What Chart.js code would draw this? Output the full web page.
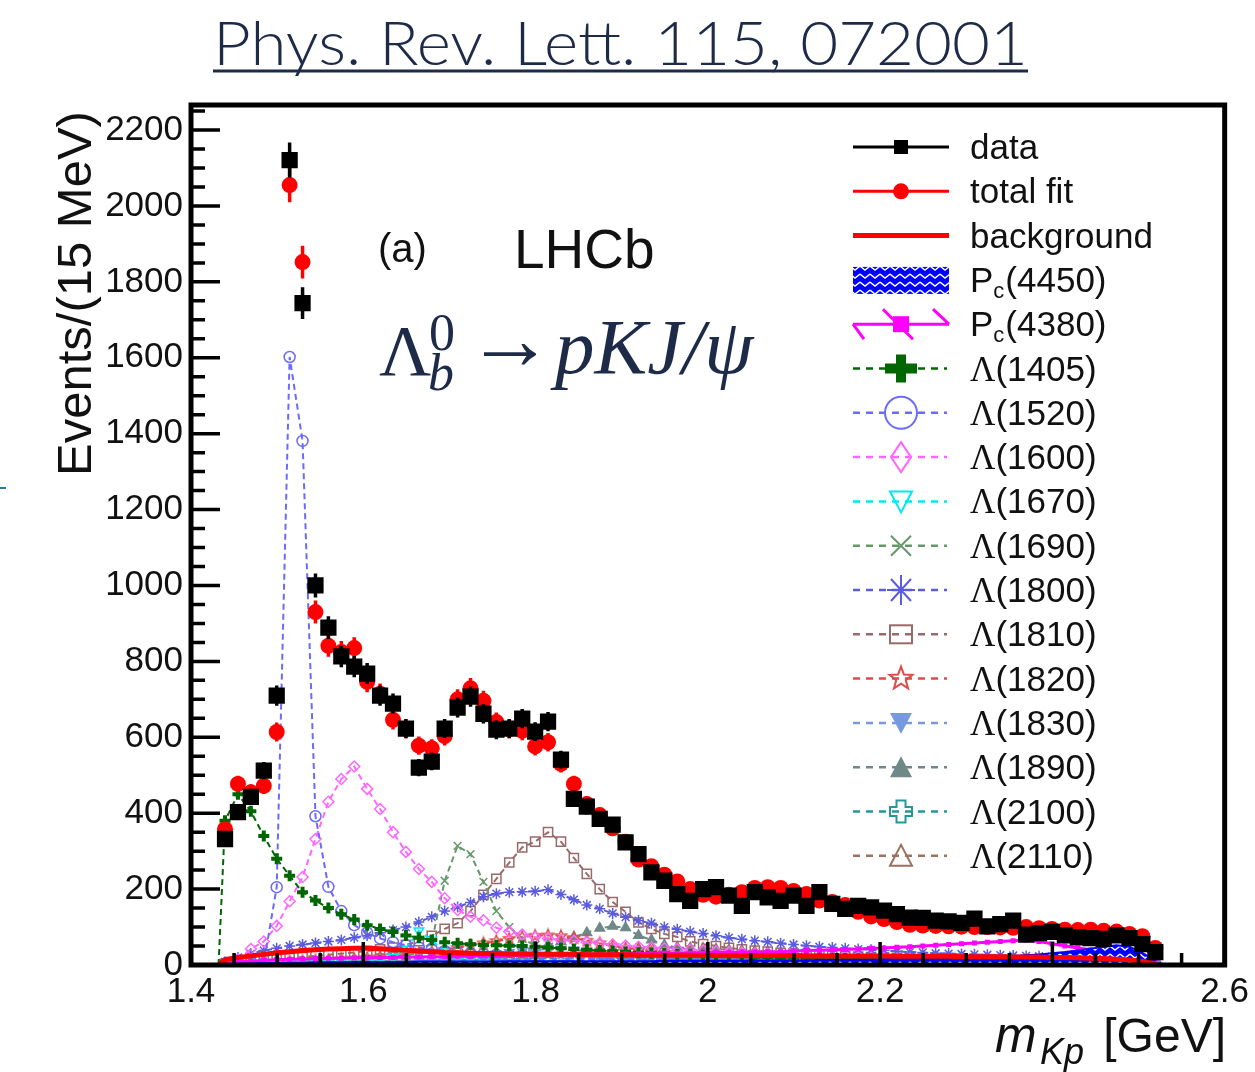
<!DOCTYPE html>
<html>
<head>
<meta charset="utf-8">
<script src="https://cdn.jsdelivr.net/npm/chart.js@4.4.1/dist/chart.umd.min.js"></script>
<style>
  html, body { margin: 0; padding: 0; background: #fff; }
  #wrap { position: relative; width: 1255px; height: 1072px; overflow: hidden; }
  #mkp, #title { position: absolute; left: 0; top: 0; }
  .mark { position: absolute; left: 0; top: 487px; width: 6px; height: 2px; background: #2b7a9b; }
</style>
</head>
<body>
<div id="wrap">
  <canvas id="mkp" width="1255" height="1072"></canvas>
  <svg id="title" width="1255" height="100">
    <text x="213" y="65" textLength="815" lengthAdjust="spacingAndGlyphs"
          font-family="Lato, 'Open Sans', sans-serif" font-weight="300" font-size="62" fill="#1d2b48">Phys. Rev. Lett. 115, 072001</text>
    <line x1="213" y1="71" x2="1028" y2="71" stroke="#1d2b48" stroke-width="3"/>
  </svg>
  <div class="mark"></div>
</div>
<script>
// m(Kp) spectrum, 15 MeV bins
const threshold = 1.432;
const massBins = [
  1.4395, 1.4545, 1.4695, 1.4845, 1.4995, 1.5145, 1.5295, 1.5445, 1.5595, 1.5745,
  1.5895, 1.6045, 1.6195, 1.6345, 1.6495, 1.6645, 1.6795, 1.6945, 1.7095, 1.7245,
  1.7395, 1.7545, 1.7695, 1.7845, 1.7995, 1.8145, 1.8295, 1.8445, 1.8595, 1.8745,
  1.8895, 1.9045, 1.9195, 1.9345, 1.9495, 1.9645, 1.9795, 1.9945, 2.0095, 2.0245,
  2.0395, 2.0545, 2.0695, 2.0845, 2.0995, 2.1145, 2.1295, 2.1445, 2.1595, 2.1745,
  2.1895, 2.2045, 2.2195, 2.2345, 2.2495, 2.2645, 2.2795, 2.2945, 2.3095, 2.3245,
  2.3395, 2.3545, 2.3695, 2.3845, 2.3995, 2.4145, 2.4295, 2.4445, 2.4595, 2.4745,
  2.4895, 2.5045, 2.5195
];

const dataCounts = [
  332, 403, 443, 512, 710, 2121, 1744, 1000, 889, 813,
  786, 768, 710, 689, 623, 520, 536, 623, 678, 707,
  662, 620, 623, 649, 615, 641, 541, 438, 417, 385,
  370, 323, 292, 244, 222, 187, 169, 200, 205, 183,
  156, 192, 178, 169, 183, 156, 192, 161, 148, 156,
  152, 143, 134, 125, 124, 117, 115, 111, 122, 102,
  108, 117, 80, 84, 87, 78, 73, 71, 69, 78,
  71, 55, 34
];
const totalFit = [
  358, 477, 455, 472, 614, 2055, 1852, 930, 841, 825,
  835, 746, 715, 646, 622, 578, 571, 603, 700, 729,
  696, 640, 622, 617, 576, 587, 530, 477, 424, 395,
  360, 325, 278, 260, 238, 220, 200, 185, 180, 185,
  192, 203, 205, 203, 195, 187, 170, 166, 158, 140,
  128, 121, 113, 106, 104, 103, 102, 101, 100, 100,
  99, 98, 100, 97, 95, 93, 92, 93, 90, 88,
  82, 76, 45
];
const background = [
  14, 20, 24, 28, 32, 35, 38, 40, 42, 43,
  44, 44, 43, 41, 39, 37, 35, 33, 32, 31,
  30, 30, 29, 29, 29, 28, 28, 28, 27, 27,
  27, 27, 26, 26, 26, 26, 26, 25, 25, 25,
  25, 25, 25, 25, 25, 24, 24, 24, 24, 24,
  24, 24, 23, 23, 23, 23, 23, 22, 22, 22,
  22, 21, 21, 21, 20, 20, 19, 18, 17, 15,
  13, 9, 4
];
const pc4450 = [
  2, 3, 4, 5, 5, 6, 6, 7, 7, 7,
  8, 8, 8, 8, 8, 9, 9, 9, 9, 9,
  9, 9, 10, 10, 10, 10, 10, 10, 10, 10,
  10, 10, 10, 10, 11, 11, 11, 11, 11, 11,
  11, 12, 12, 12, 12, 12, 13, 13, 13, 14,
  14, 15, 15, 16, 16, 17, 18, 19, 20, 21,
  22, 24, 26, 28, 31, 34, 38, 43, 48, 52,
  48, 32, 10
];
const pc4380 = [
  5, 8, 10, 12, 14, 15, 16, 17, 18, 18,
  19, 19, 20, 20, 21, 21, 22, 22, 23, 23,
  24, 24, 25, 25, 26, 26, 27, 27, 28, 28,
  29, 29, 30, 30, 31, 31, 32, 32, 33, 33,
  34, 34, 35, 35, 37, 38, 39, 40, 41, 42,
  44, 45, 47, 48, 50, 52, 54, 56, 58, 60,
  62, 64, 66, 62, 56, 50, 45, 40, 36, 32,
  27, 18, 6
];
const l1405 = [
  380, 450, 405, 340, 280, 235, 192, 170, 150, 134,
  120, 105, 95, 87, 78, 72, 66, 60, 57, 55,
  53, 52, 51, 50, 48, 46, 44, 42, 40, 38,
  36, 34, 32, 31, 30, 28, 27, 26, 25, 24,
  23, 22, 21, 20, 20, 19, 18, 18, 17, 16,
  16, 15, 15, 14, 13, 13, 12, 12, 12, 11,
  11, 11, 10, 10, 10, 9, 9, 8, 8, 7,
  6, 4, 2
];
const l1520 = [
  3, 5, 7, 5, 205, 1602, 1381, 392, 206, 142,
  105, 85, 70, 60, 52, 46, 41, 37, 34, 31,
  29, 27, 25, 23, 22, 21, 20, 19, 18, 17,
  16, 15, 15, 14, 13, 13, 12, 12, 11, 11,
  10, 10, 10, 9, 9, 9, 8, 8, 8, 8,
  7, 7, 7, 7, 6, 6, 6, 6, 6, 5,
  5, 5, 5, 5, 4, 4, 4, 4, 4, 3,
  3, 2, 1
];
const l1600 = [
  2, 15, 42, 62, 103, 168, 232, 332, 430, 490,
  523, 464, 411, 350, 298, 253, 219, 176, 145, 127,
  118, 98, 88, 80, 74, 70, 66, 64, 60, 57,
  54, 51, 48, 46, 44, 42, 40, 38, 36, 34,
  32, 30, 29, 27, 26, 24, 23, 22, 21, 20,
  19, 18, 17, 16, 15, 14, 13, 12, 12, 11,
  10, 10, 9, 9, 8, 8, 7, 6, 6, 5,
  4, 3, 1
];
const l1670 = [
  0, 1, 1, 2, 2, 3, 3, 4, 5, 6,
  7, 9, 12, 20, 42, 90, 66, 35, 20, 13,
  9, 7, 5, 4, 3, 3, 2, 2, 2, 2,
  1, 1, 1, 1, 1, 1, 1, 1, 1, 1,
  1, 1, 1, 1, 1, 1, 1, 1, 1, 1,
  1, 1, 1, 1, 1, 0, 0, 0, 0, 0,
  0, 0, 0, 0, 0, 0, 0, 0, 0, 0,
  0, 0, 0
];
const l1690 = [
  0, 1, 2, 3, 4, 5, 6, 7, 8, 10,
  11, 13, 15, 18, 24, 35, 60, 222, 314, 292,
  219, 142, 100, 69, 52, 42, 35, 30, 26, 22,
  19, 17, 15, 13, 12, 11, 10, 9, 8, 8,
  7, 7, 6, 6, 5, 5, 5, 4, 4, 4,
  4, 3, 3, 3, 3, 3, 3, 2, 2, 2,
  2, 2, 2, 2, 2, 2, 1, 1, 1, 1,
  1, 1, 0
];
const l1800 = [
  8, 20, 30, 38, 44, 50, 54, 58, 62, 66,
  72, 78, 85, 92, 100, 113, 127, 142, 153, 165,
  180, 188, 192, 193, 194, 198, 186, 172, 158, 148,
  136, 126, 117, 110, 100, 94, 88, 83, 77, 72,
  68, 64, 61, 57, 54, 51, 48, 46, 44, 42,
  40, 38, 36, 34, 33, 31, 30, 29, 28, 27,
  26, 25, 24, 23, 22, 21, 20, 19, 18, 17,
  15, 11, 5
];
const l1810 = [
  3, 6, 9, 12, 15, 18, 21, 24, 27, 30,
  33, 37, 41, 46, 53, 63, 77, 95, 110, 142,
  185, 227, 270, 310, 325, 350, 325, 282, 240, 200,
  166, 140, 112, 95, 82, 74, 62, 55, 50, 45,
  41, 38, 35, 32, 30, 28, 26, 24, 23, 22,
  21, 20, 19, 18, 17, 16, 15, 14, 13, 13,
  12, 12, 11, 11, 10, 10, 9, 9, 8, 8,
  7, 5, 2
];
const l1820 = [
  2, 4, 5, 6, 8, 9, 10, 12, 13, 15,
  17, 19, 21, 24, 27, 31, 35, 40, 45, 51,
  57, 63, 69, 74, 77, 78, 76, 71, 64, 57,
  50, 44, 39, 35, 31, 28, 25, 23, 21, 19,
  18, 17, 16, 15, 14, 13, 12, 12, 11, 11,
  10, 10, 9, 9, 9, 8, 8, 8, 7, 7,
  7, 6, 6, 6, 6, 5, 5, 5, 4, 4,
  4, 3, 1
];
const l1830 = [
  1, 2, 2, 3, 3, 4, 4, 5, 5, 6,
  6, 7, 8, 9, 10, 11, 13, 15, 18, 21,
  25, 29, 33, 37, 40, 42, 42, 40, 37, 33,
  29, 25, 22, 19, 17, 15, 13, 12, 11, 10,
  9, 8, 8, 7, 7, 6, 6, 6, 5, 5,
  5, 5, 4, 4, 4, 4, 4, 3, 3, 3,
  3, 3, 3, 3, 2, 2, 2, 2, 2, 2,
  2, 1, 1
];
const l1890 = [
  1, 1, 2, 2, 3, 3, 4, 4, 5, 5,
  6, 7, 8, 9, 10, 12, 14, 16, 19, 22,
  26, 30, 35, 40, 46, 53, 62, 74, 85, 97,
  102, 98, 78, 66, 53, 46, 41, 37, 33, 30,
  27, 25, 23, 21, 20, 18, 17, 16, 15, 14,
  13, 12, 12, 11, 11, 10, 10, 9, 9, 8,
  8, 7, 7, 7, 6, 6, 6, 5, 5, 4,
  4, 3, 1
];
const l2100 = [
  0, 1, 1, 1, 2, 2, 2, 3, 3, 3,
  4, 4, 5, 5, 6, 6, 7, 7, 8, 8,
  9, 9, 10, 10, 11, 11, 12, 12, 13, 13,
  14, 14, 14, 15, 15, 15, 15, 15, 15, 15,
  15, 14, 14, 14, 13, 13, 12, 12, 11, 11,
  10, 10, 9, 9, 8, 8, 7, 7, 6, 6,
  5, 5, 5, 4, 4, 4, 3, 3, 3, 2,
  2, 1, 0
];
const l2110 = [
  0, 1, 1, 2, 2, 3, 3, 4, 4, 5,
  5, 6, 7, 8, 9, 10, 11, 12, 13, 15,
  17, 19, 21, 23, 25, 27, 30, 32, 35, 38,
  40, 42, 44, 45, 46, 46, 45, 44, 42, 40,
  38, 36, 34, 32, 30, 28, 26, 24, 22, 21,
  19, 18, 16, 15, 14, 13, 12, 11, 10, 9,
  9, 8, 7, 7, 6, 5, 5, 4, 4, 3,
  3, 2, 1
];

const xTicks = [1.4, 1.6, 1.8, 2.0, 2.2, 2.4, 2.6];
const xTickLabels = ['1.4', '1.6', '1.8', '2', '2.2', '2.4', '2.6'];
const yTicks = [0, 200, 400, 600, 800, 1000, 1200, 1400, 1600, 1800, 2000, 2200];

const SANS = "'Liberation Sans', Arial, Helvetica, sans-serif";
const SERIF = "'Liberation Serif', 'Times New Roman', serif";
const NAVY = '#1d2b48';

const cv = document.getElementById('mkp');
const ctx0 = cv.getContext('2d');

// blue hatch for Pc(4450)
function hatchPattern() {
  const t = document.createElement('canvas');
  t.width = 10; t.height = 8;
  const g = t.getContext('2d');
  g.fillStyle = '#0000ff'; g.fillRect(0, 0, 10, 8);
  g.strokeStyle = '#ffffff'; g.lineWidth = 1.4;
  g.beginPath(); g.moveTo(0, 2); g.lineTo(5, 6); g.lineTo(10, 2); g.stroke();
  return ctx0.createPattern(t, 'repeat');
}
const hatch = hatchPattern();

// small marker images that Chart.js does not have
function starImg(r, color) {
  const s = Math.ceil(2 * r + 4), c = document.createElement('canvas');
  c.width = c.height = s;
  const g = c.getContext('2d');
  g.strokeStyle = color; g.lineWidth = 1.5; g.beginPath();
  for (let k = 0; k < 10; k++) {
    const a = -Math.PI / 2 + k * Math.PI / 5, rr = k % 2 ? r * 0.45 : r;
    const px = s / 2 + rr * Math.cos(a), py = s / 2 + rr * Math.sin(a);
    k ? g.lineTo(px, py) : g.moveTo(px, py);
  }
  g.closePath(); g.stroke();
  return c;
}
function crossImg(r, color) {
  const s = Math.ceil(2 * r + 4), c = document.createElement('canvas');
  c.width = c.height = s;
  const g = c.getContext('2d'), m = s / 2, w = r * 0.38;
  g.strokeStyle = color; g.lineWidth = 1.5; g.beginPath();
  const pts = [[-w, -r], [w, -r], [w, -w], [r, -w], [r, w], [w, w], [w, r], [-w, r], [-w, w], [-r, w], [-r, -w], [-w, -w]];
  pts.forEach((p, i) => i ? g.lineTo(m + p[0], m + p[1]) : g.moveTo(m + p[0], m + p[1]));
  g.closePath(); g.stroke();
  return c;
}

const pts = vals => vals.map((v, i) => ({ x: massBins[i], y: v }));
const curve = vals => [{ x: threshold, y: 0 }].concat(pts(vals));
const noFirst = r => c => (c.dataIndex === 0 ? 0 : r);

// component styling table: [label, values, colour, marker, filled, rotation, legend kind]
const components = [
  ['Λ(1405)', l1405, '#006600', 'cross', true, 0, 'plus'],
  ['Λ(1520)', l1520, '#6a6aff', 'circle', false, 0, 'circle'],
  ['Λ(1600)', l1600, '#ff66ff', 'rectRot', false, 0, 'diamond'],
  ['Λ(1670)', l1670, '#00e8f0', 'triangle', false, 180, 'triDown'],
  ['Λ(1690)', l1690, '#66996a', 'crossRot', false, 0, 'x'],
  ['Λ(1800)', l1800, '#5b5be0', 'star', false, 0, 'asterisk'],
  ['Λ(1810)', l1810, '#9a6a6a', 'rect', false, 0, 'box'],
  ['Λ(1820)', l1820, '#dd4b4b', starImg(6, '#dd4b4b'), false, 0, 'star'],
  ['Λ(1830)', l1830, '#7799dd', 'triangle', true, 180, 'triDownFilled'],
  ['Λ(1890)', l1890, '#6f8888', 'triangle', true, 0, 'triUpFilled'],
  ['Λ(2100)', l2100, '#229999', crossImg(6, '#229999'), false, 0, 'plusOpen'],
  ['Λ(2110)', l2110, '#9a7260', 'triangle', false, 0, 'triUp']
];

const datasets = [
  { label: 'data', data: pts(dataCounts), errorBars: dataCounts.map(Math.sqrt), showLine: false,
    pointStyle: 'rect', pointRadius: 11.5, pointBackgroundColor: '#000', pointBorderColor: '#000', pointBorderWidth: 0 },
  { label: 'total fit', data: pts(totalFit), errorBars: totalFit.map(Math.sqrt), showLine: false,
    pointStyle: 'circle', pointRadius: 8, pointBackgroundColor: '#ff0000', pointBorderColor: '#ff0000', pointBorderWidth: 0 },
  { label: 'background', data: curve(background), borderColor: '#ff0000', borderWidth: 5, pointRadius: 0 },
  { label: 'Pc(4450)', data: curve(pc4450), borderColor: '#0000ff', borderWidth: 2, pointRadius: 0,
    fill: 'origin', backgroundColor: hatch },
  { label: 'Pc(4380)', data: curve(pc4380), borderColor: '#ff00ff', borderWidth: 3, pointStyle: 'rect',
    pointRadius: noFirst(3.5), pointBackgroundColor: '#ff00ff', pointBorderColor: '#ff00ff', pointBorderWidth: 0 }
];
components.forEach(([label, vals, color, style, filled, rot]) => {
  datasets.push({
    label, data: curve(vals), borderColor: color, borderWidth: 2, borderDash: [6, 4],
    pointStyle: style, pointRotation: rot, pointRadius: noFirst(style === 'rect' ? 6.5 : 5.5),
    pointBorderColor: color, pointBackgroundColor: filled ? color : 'rgba(0,0,0,0)',
    pointBorderWidth: style === 'cross' ? 4 : 1.5, fill: false
  });
});

function drawMark(ctx, kind, x, y, color) {
  ctx.save();
  ctx.setLineDash([]);
  ctx.strokeStyle = color; ctx.fillStyle = color; ctx.lineWidth = 2;
  ctx.beginPath();
  if (kind === 'square') { ctx.fillRect(x - 7, y - 7, 14, 14); }
  else if (kind === 'dot') { ctx.arc(x, y, 8, 0, 2 * Math.PI); ctx.fill(); }
  else if (kind === 'plus') { ctx.fillRect(x - 16, y - 5, 32, 10); ctx.fillRect(x - 5, y - 14, 10, 28); }
  else if (kind === 'circle') { ctx.arc(x, y, 16, 0, 2 * Math.PI); ctx.stroke(); }
  else if (kind === 'diamond') { ctx.moveTo(x, y - 15); ctx.lineTo(x + 10, y); ctx.lineTo(x, y + 15); ctx.lineTo(x - 10, y); ctx.closePath(); ctx.stroke(); }
  else if (kind === 'triDown' || kind === 'triDownFilled') {
    ctx.moveTo(x - 11, y - 10); ctx.lineTo(x + 11, y - 10); ctx.lineTo(x, y + 11); ctx.closePath();
    kind === 'triDown' ? ctx.stroke() : ctx.fill();
  }
  else if (kind === 'triUp' || kind === 'triUpFilled') {
    ctx.moveTo(x - 11, y + 10); ctx.lineTo(x + 11, y + 10); ctx.lineTo(x, y - 11); ctx.closePath();
    kind === 'triUp' ? ctx.stroke() : ctx.fill();
  }
  else if (kind === 'x') { ctx.moveTo(x - 10, y - 10); ctx.lineTo(x + 10, y + 10); ctx.moveTo(x + 10, y - 10); ctx.lineTo(x - 10, y + 10); ctx.stroke(); }
  else if (kind === 'asterisk') {
    ctx.moveTo(x - 14, y); ctx.lineTo(x + 14, y); ctx.moveTo(x, y - 15); ctx.lineTo(x, y + 15);
    ctx.moveTo(x - 10, y - 11); ctx.lineTo(x + 10, y + 11); ctx.moveTo(x + 10, y - 11); ctx.lineTo(x - 10, y + 11); ctx.stroke();
  }
  else if (kind === 'box') { ctx.strokeRect(x - 11, y - 9, 22, 18); }
  else if (kind === 'star') {
    for (let k = 0; k < 10; k++) {
      const a = -Math.PI / 2 + k * Math.PI / 5, rr = k % 2 ? 5 : 12;
      k ? ctx.lineTo(x + rr * Math.cos(a), y + rr * Math.sin(a)) : ctx.moveTo(x + rr * Math.cos(a), y + rr * Math.sin(a));
    }
    ctx.closePath(); ctx.stroke();
  }
  else if (kind === 'plusOpen') {
    const r = 11, w = 4.5;
    const p = [[-w, -r], [w, -r], [w, -w], [r, -w], [r, w], [w, w], [w, r], [-w, r], [-w, w], [-r, w], [-r, -w], [-w, -w]];
    p.forEach((q, i) => i ? ctx.lineTo(x + q[0], y + q[1]) : ctx.moveTo(x + q[0], y + q[1]));
    ctx.closePath(); ctx.stroke();
  }
  ctx.restore();
}

const overlay = {
  id: 'overlay',
  beforeDatasetDraw(chart, args) {
    const ds = chart.data.datasets[args.index];
    if (!ds.errorBars) return;
    const { ctx, chartArea: a, scales: { x, y } } = chart;
    ctx.save();
    ctx.beginPath(); ctx.rect(a.left, a.top, a.right - a.left, a.bottom - a.top); ctx.clip();
    ctx.strokeStyle = ds.pointBackgroundColor; ctx.lineWidth = 3.5;
    ctx.beginPath();
    ds.data.forEach((p, i) => {
      const px = x.getPixelForValue(p.x);
      ctx.moveTo(px, y.getPixelForValue(p.y - ds.errorBars[i]));
      ctx.lineTo(px, y.getPixelForValue(p.y + ds.errorBars[i]));
    });
    ctx.stroke();
    ctx.restore();
  },
  afterDraw(chart) {
    const { ctx, chartArea: a, scales: { x, y } } = chart;
    ctx.save();
    ctx.setLineDash([]);
    // inward ticks
    ctx.strokeStyle = '#000'; ctx.lineWidth = 3.5;
    ctx.beginPath();
    for (let v = 0; v <= y.max; v += 50) {
      const py = y.getPixelForValue(v), len = v % 200 === 0 ? 29 : 14;
      ctx.moveTo(a.left, py); ctx.lineTo(a.left + len, py);
    }
    for (let k = 0; 1.4 + 0.05 * k <= 2.6 + 1e-9; k++) {
      const px = x.getPixelForValue(1.4 + 0.05 * k), len = k % 4 === 0 ? 23 : 12;
      ctx.moveTo(px, a.bottom); ctx.lineTo(px, a.bottom - len);
    }
    ctx.stroke();
    ctx.lineWidth = 5;
    ctx.strokeRect(a.left, a.top, a.right - a.left, a.bottom - a.top);

    // axis titles
    ctx.fillStyle = '#111';
    ctx.textAlign = 'left'; ctx.textBaseline = 'alphabetic';
    ctx.save();
    ctx.translate(91, 476); ctx.rotate(-Math.PI / 2);
    ctx.font = '49px ' + SANS;
    ctx.fillText('Events/(15 MeV)', 0, 0);
    ctx.restore();
    ctx.font = 'italic 50px ' + SANS; ctx.fillText('m', 995, 1052);
    ctx.font = 'italic 36px ' + SANS; ctx.fillText('Kp', 1040, 1064);
    ctx.font = '48px ' + SANS; ctx.textAlign = 'right'; ctx.fillText('[GeV]', 1226, 1052);
    ctx.textAlign = 'left';

    // labels inside the frame
    ctx.font = '40px ' + SANS; ctx.fillText('(a)', 378, 262);
    ctx.font = '55px ' + SANS; ctx.fillText('LHCb', 514, 268);
    ctx.fillStyle = NAVY;
    ctx.font = '72px ' + SERIF; ctx.fillText('Λ', 379, 375);
    ctx.font = '52px ' + SERIF; ctx.fillText('0', 429, 350);
    ctx.font = 'italic 52px ' + SERIF; ctx.fillText('b', 428, 390);
    ctx.font = '88px ' + SERIF; ctx.fillText('→', 466, 369);
    ctx.font = 'italic 79px ' + SERIF; ctx.fillText('pKJ/ψ', 555, 373);

    // legend
    const rows = chart.data.datasets;
    rows.forEach((ds, k) => {
      const ry = 147 + k * 44.3;
      const color = ds.borderColor || ds.pointBackgroundColor;
      ctx.save();
      if (k === 0 || k === 1) {
        ctx.strokeStyle = ds.pointBackgroundColor; ctx.lineWidth = 3;
        ctx.beginPath(); ctx.moveTo(853, ry); ctx.lineTo(949, ry); ctx.stroke();
        drawMark(ctx, k === 0 ? 'square' : 'dot', 901, ry, ds.pointBackgroundColor);
      } else if (k === 2) {
        ctx.strokeStyle = color; ctx.lineWidth = 5;
        ctx.beginPath(); ctx.moveTo(853, ry); ctx.lineTo(949, ry); ctx.stroke();
      } else if (k === 3) {
        ctx.fillStyle = hatch; ctx.fillRect(853, ry - 13, 96, 27);
      } else if (k === 4) {
        ctx.strokeStyle = color; ctx.lineWidth = 3;
        ctx.beginPath(); ctx.moveTo(853, ry); ctx.lineTo(949, ry);
        ctx.moveTo(853, ry); ctx.lineTo(864, ry + 15);
        ctx.moveTo(883, ry - 15); ctx.lineTo(913, ry + 15);
        ctx.moveTo(933, ry - 15); ctx.lineTo(949, ry);
        ctx.stroke();
        ctx.fillStyle = color; ctx.fillRect(893, ry - 8, 16, 16);
      } else {
        ctx.strokeStyle = color; ctx.lineWidth = 2.5; ctx.setLineDash([7, 6]);
        ctx.beginPath(); ctx.moveTo(853, ry); ctx.lineTo(947, ry); ctx.stroke();
        drawMark(ctx, components[k - 5][6], 901, ry, color);
      }
      ctx.restore();
      ctx.fillStyle = '#111';
      const base = ry + 12;
      if (ds.label.startsWith('Λ')) {
        ctx.font = '35px ' + SERIF; ctx.fillText('Λ', 970, base);
        const w = ctx.measureText('Λ').width;
        ctx.font = '35px ' + SANS; ctx.fillText(ds.label.slice(1), 970 + w, base);
      } else if (ds.label.startsWith('Pc')) {
        ctx.font = '35px ' + SANS; ctx.fillText('P', 970, base);
        const w = ctx.measureText('P').width;
        ctx.font = '22px ' + SANS; ctx.fillText('c', 970 + w, base + 6);
        const wc = ctx.measureText('c').width;
        ctx.font = '35px ' + SANS; ctx.fillText(ds.label.slice(2), 970 + w + wc + 1, base);
      } else {
        ctx.font = '35px ' + SANS; ctx.fillText(ds.label, 970, base);
      }
    });
    ctx.restore();
  }
};

new Chart(cv, {
  type: 'line',
  data: { datasets },
  options: {
    responsive: false, animation: false, devicePixelRatio: 1,
    layout: { padding: { top: 105, right: 30, left: 0, bottom: 0 } },
    elements: { line: { tension: 0 } },
    plugins: { legend: { display: false }, tooltip: { enabled: false } },
    scales: {
      x: {
        type: 'linear', min: 1.4, max: 2.6,
        grid: { display: false, drawTicks: false }, border: { display: false },
        afterBuildTicks: s => { s.ticks = xTicks.map(v => ({ value: v })); },
        afterFit: s => { s.height = 1072 - 965; },
        ticks: { padding: 6, autoSkip: false, maxRotation: 0, color: '#111',
          font: { family: SANS, size: 35 }, callback: (v, i) => xTickLabels[i] }
      },
      y: {
        type: 'linear', min: 0, max: 2266,
        grid: { display: false, drawTicks: false }, border: { display: false },
        afterBuildTicks: s => { s.ticks = yTicks.map(v => ({ value: v })); },
        afterFit: s => { s.width = 191; },
        ticks: { padding: 8, color: '#111', font: { family: SANS, size: 35 },
          callback: (v, i) => String(yTicks[i]) }
      }
    }
  },
  plugins: [overlay]
});
</script>
</body>
</html>
